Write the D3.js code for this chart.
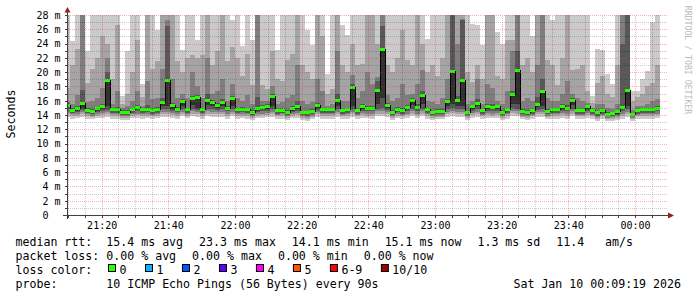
<!DOCTYPE html>
<html><head><meta charset="utf-8">
<script src="https://cdn.jsdelivr.net/npm/d3@7"></script>
<style>
body{margin:0;background:#fff;}
svg{display:block;}
text{font-family:"DejaVu Sans Mono",monospace;white-space:pre;}
</style>
</head><body>
<svg id="c" width="697" height="297"></svg>
<script>
// ---------- data ----------
const startTime = "2026-01-09T21:09:36";
const endTime   = "2026-01-10T00:09:36";
const firstStep = "2026-01-09T21:09:00";
const stepSeconds = 90;
const yMax = 28;

const median = [
15.40,14.70,14.89,15.68,14.70,14.47,14.89,15.26,18.81,14.75,
14.75,14.37,14.42,14.75,15.12,14.75,14.84,14.65,14.79,15.82,
18.81,15.40,14.84,15.96,14.75,16.38,16.47,14.75,16.01,15.82,
15.40,15.82,14.93,16.29,14.79,14.84,14.75,14.42,14.89,15.12,
15.21,16.61,14.61,14.70,14.42,14.89,15.26,14.37,14.33,14.56,
15.35,14.75,14.79,14.79,16.01,14.65,14.79,17.92,14.61,15.21,
14.93,14.98,17.50,23.24,15.40,14.42,14.84,14.61,15.12,16.10,
15.07,16.80,14.75,14.37,14.51,14.51,15.96,20.07,16.10,18.90,
14.37,15.17,15.63,14.65,15.21,15.07,15.17,14.42,14.75,16.89,
20.21,14.56,14.42,14.61,15.49,17.36,14.56,14.75,14.75,15.21,
14.93,16.05,14.61,14.65,15.21,14.65,14.33,14.61,14.09,14.19,
14.47,15.07,17.41,14.09,14.65,14.75,14.75,14.75,14.98];

const ping1 = [
13.7,13.5,13.6,13.7,13.5,13.4,13.6,13.6,13.7,13.5,
13.5,13.3,13.3,13.6,13.6,13.5,13.6,13.5,13.6,13.7,
13.7,13.6,13.5,13.8,13.6,13.8,13.7,13.5,13.8,13.7,
13.7,13.7,13.5,13.8,13.5,13.6,13.5,13.3,13.6,13.6,
13.7,13.7,13.4,13.5,13.3,13.6,13.6,13.3,13.2,13.4,
13.7,13.5,13.5,13.5,13.7,13.4,13.5,13.7,13.4,13.6,
13.6,13.5,13.8,13.8,13.7,13.3,13.6,13.5,13.6,13.8,
13.6,13.8,13.5,13.3,13.4,13.4,13.7,13.9,13.7,13.7,
13.3,13.6,13.7,13.4,13.6,13.6,13.6,13.3,13.5,13.9,
13.8,13.4,13.3,13.5,13.7,13.7,13.4,13.5,13.5,13.6,
13.5,13.8,13.4,13.4,13.6,13.5,13.2,13.5,13.1,13.2,
13.3,13.5,13.7,13.1,13.4,13.5,13.5,13.5,13.6];

const ping2 = [
14.1,13.9,13.9,14.1,13.8,13.7,13.9,14.0,14.1,13.9,
13.8,13.6,13.6,13.9,14.0,13.9,13.9,13.8,13.9,14.1,
14.1,14.0,13.9,14.1,13.9,14.2,14.1,13.9,14.2,14.1,
14.1,14.1,13.9,14.1,13.9,13.9,13.8,13.6,13.9,14.0,
14.0,14.1,13.8,13.8,13.6,13.9,14.0,13.6,13.5,13.7,
14.1,13.9,13.8,13.8,14.1,13.8,13.8,14.1,13.8,14.0,
13.9,13.9,14.2,14.2,14.1,13.6,13.9,13.8,14.0,14.2,
14.0,14.2,13.8,13.6,13.7,13.7,14.1,14.3,14.1,14.1,
13.6,14.0,14.1,13.8,14.0,13.9,14.0,13.6,13.8,14.3,
14.2,13.7,13.6,13.8,14.1,14.1,13.7,13.9,13.8,14.0,
13.9,14.2,13.8,13.8,14.0,13.8,13.5,13.8,13.4,13.5,
13.6,13.9,14.1,13.4,13.8,13.9,13.9,13.9,14.0];

const ping3 = [
14.4,14.1,14.2,14.4,14.1,13.9,14.2,14.3,14.4,14.1,
14.1,13.8,13.8,14.1,14.2,14.1,14.2,14.0,14.1,14.4,
14.4,14.3,14.2,14.4,14.1,14.5,14.4,14.1,14.5,14.4,
14.4,14.4,14.2,14.4,14.1,14.2,14.1,13.8,14.2,14.2,
14.3,14.4,14.0,14.1,13.8,14.2,14.3,13.8,13.7,13.9,
14.4,14.1,14.1,14.1,14.4,14.0,14.1,14.4,14.0,14.3,
14.2,14.2,14.5,14.6,14.4,13.8,14.2,14.0,14.2,14.5,
14.2,14.5,14.1,13.8,13.9,13.9,14.4,14.6,14.4,14.4,
13.8,14.3,14.4,14.0,14.3,14.2,14.3,13.8,14.1,14.6,
14.5,13.9,13.8,14.0,14.4,14.4,13.9,14.1,14.1,14.3,
14.2,14.5,14.0,14.0,14.3,14.0,13.7,14.0,13.6,13.7,
13.8,14.2,14.4,13.6,14.0,14.1,14.1,14.1,14.2];

const ping4 = [
14.8,14.3,14.4,14.7,14.3,14.1,14.4,14.6,14.7,14.3,
14.3,14.0,14.0,14.3,14.5,14.3,14.4,14.2,14.3,14.8,
14.8,14.6,14.4,14.8,14.3,14.9,14.7,14.3,14.9,14.8,
14.7,14.8,14.5,14.8,14.3,14.4,14.3,14.0,14.4,14.5,
14.6,14.8,14.2,14.3,14.0,14.4,14.6,14.0,13.9,14.1,
14.7,14.3,14.3,14.3,14.8,14.2,14.3,14.8,14.2,14.6,
14.5,14.5,14.9,15.0,14.7,14.0,14.4,14.2,14.5,14.9,
14.5,14.9,14.3,14.0,14.1,14.1,14.8,15.0,14.8,14.8,
14.0,14.6,14.8,14.2,14.6,14.5,14.6,14.0,14.3,15.0,
14.9,14.1,14.0,14.2,14.7,14.8,14.1,14.3,14.3,14.6,
14.5,14.9,14.2,14.2,14.6,14.2,13.9,14.2,13.8,13.9,
14.0,14.5,14.8,13.8,14.2,14.3,14.3,14.3,14.5];

const ping5 = [
15.1,14.5,14.6,15.0,14.5,14.3,14.6,14.9,15.2,14.5,
14.5,14.2,14.2,14.5,14.8,14.5,14.6,14.4,14.5,15.2,
15.3,14.9,14.6,15.3,14.5,15.4,15.0,14.5,15.4,15.2,
15.0,15.2,14.7,15.2,14.5,14.6,14.5,14.2,14.6,14.8,
14.9,15.2,14.4,14.5,14.2,14.6,14.9,14.2,14.1,14.3,
15.0,14.5,14.5,14.5,15.2,14.4,14.5,15.3,14.4,14.9,
14.7,14.7,15.5,16.4,15.0,14.2,14.6,14.4,14.8,15.4,
14.8,15.5,14.5,14.2,14.3,14.3,15.3,15.6,15.3,15.3,
14.2,14.9,15.2,14.4,14.9,14.8,14.9,14.2,14.5,15.6,
15.5,14.3,14.2,14.4,15.1,15.3,14.3,14.5,14.5,14.9,
14.7,15.4,14.4,14.4,14.9,14.4,14.1,14.4,13.9,14.0,
14.2,14.8,15.3,13.9,14.4,14.5,14.5,14.5,14.7];

const ping7 = [
15.7,15.0,15.2,17.5,15.0,14.8,15.1,15.6,20.0,15.0,
15.1,14.7,14.7,15.0,15.4,15.0,15.4,14.9,15.1,16.4,
26.5,15.7,15.1,16.2,15.0,16.7,16.8,15.0,17.0,16.1,
15.7,16.2,15.2,16.6,15.0,15.1,15.0,14.7,16.5,15.4,
15.5,17.0,14.9,14.9,14.7,15.2,16.0,14.6,14.6,14.8,
15.7,15.0,15.0,15.0,17.0,14.9,15.0,18.3,14.9,15.5,
15.3,15.3,18.8,26.4,15.7,14.7,15.1,15.0,15.4,16.4,
15.5,17.3,15.0,14.6,14.8,14.8,16.3,29.0,16.6,27.3,
14.6,15.4,16.3,14.9,15.6,15.5,15.4,14.7,15.0,17.4,
23.0,14.8,14.7,14.9,16.5,19.0,14.8,15.0,15.0,15.5,
15.4,16.4,14.9,14.9,15.4,14.8,14.6,14.8,14.4,14.4,
14.7,24.0,29.0,14.3,14.9,15.0,15.0,15.0,15.2];

const ping8 = [
16.0,15.6,16.8,29.0,15.8,15.9,16.4,17.8,22.0,15.6,
17.3,15.0,15.2,16.0,17.3,15.3,18.8,16.2,16.4,20.5,
27.3,19.0,16.4,17.0,16.4,20.0,18.0,16.4,22.0,17.0,
17.3,19.0,16.0,18.3,16.4,16.0,16.8,15.6,29.0,16.0,
15.9,18.0,15.6,15.8,16.4,16.8,21.0,16.0,15.6,15.8,
19.0,17.3,15.3,15.6,23.0,16.0,16.0,19.6,16.4,17.3,
20.0,18.3,19.3,29.0,16.8,16.0,16.4,18.3,16.8,17.0,
18.3,20.3,16.0,15.8,15.6,16.4,19.0,29.0,24.0,27.5,
15.6,16.0,19.0,15.6,18.3,17.8,16.0,15.5,17.3,23.0,
29.0,16.0,16.4,16.0,21.0,29.0,16.4,16.0,16.0,17.0,
18.8,17.0,16.4,16.0,15.7,15.0,15.6,15.6,15.0,14.8,
15.6,29.0,29.0,14.7,15.3,15.3,15.6,16.0,16.2];

const ping9 = [
17.8,21.0,23.2,29.0,18.5,20.5,22.0,25.0,24.0,19.0,
26.6,15.6,17.0,20.0,24.5,16.5,29.0,20.5,21.5,29.0,
28.0,29.0,21.5,20.0,22.0,22.4,22.0,22.4,29.0,21.0,
23.0,29.0,21.5,23.5,22.0,19.5,22.5,18.2,29.0,18.2,
17.7,23.0,19.0,18.7,21.7,22.6,29.0,21.0,20.0,19.0,
29.0,25.0,17.0,17.7,29.0,21.0,20.0,24.0,21.0,21.2,
29.0,29.0,24.0,29.0,21.0,20.0,22.0,25.9,21.7,21.0,
29.0,24.0,20.0,21.0,19.5,22.0,29.0,29.0,29.0,29.0,
20.0,18.6,21.0,19.0,29.0,29.0,19.4,19.0,24.5,24.5,
29.0,21.0,22.0,20.0,29.0,29.0,21.7,21.0,18.2,22.0,
29.0,20.3,20.5,21.0,17.3,15.7,18.5,19.5,17.0,16.5,
21.0,29.0,29.0,16.0,16.5,17.0,18.0,18.5,21.0];

const ping10 = [
29.0,24.4,29.0,29.0,22.9,29.0,29.0,28.0,29.0,29.0,
29.0,16.7,22.9,28.0,29.0,18.4,29.0,29.0,25.9,29.0,
29.0,29.0,28.2,23.1,29.0,29.0,24.5,29.0,29.0,29.0,
28.0,29.0,29.0,27.3,29.0,23.6,29.0,24.5,29.0,29.0,
29.0,29.0,23.1,29.0,29.0,29.0,29.0,29.0,25.9,23.8,
29.0,29.0,19.8,29.0,29.0,26.6,25.2,29.0,29.0,29.0,
29.0,29.0,29.0,29.0,29.0,29.0,29.0,29.0,29.0,29.0,
29.0,29.0,24.7,29.0,29.0,29.0,29.0,29.0,29.0,29.0,
29.0,26.8,26.6,23.8,29.0,29.0,25.6,24.0,29.0,29.0,
29.0,29.0,29.0,25.0,29.0,29.0,29.0,27.3,29.0,29.0,
29.0,29.0,29.0,29.0,29.0,16.6,23.3,23.1,19.8,18.4,
28.5,29.0,29.0,17.3,17.3,19.1,20.1,27.0,28.5];

const yLabelValues = [0,2,4,6,8,10,12,14,16,18,20,22,24,26,28];
const yUnit = "m";
const medianLabel = "median rtt:";
const medianStats = ["15.4 ms avg","23.3 ms max","14.1 ms min","15.1 ms now","1.3 ms sd","11.4   am/s"];
const lossLabel = "packet loss:";
const lossStats = ["0.00 % avg","0.00 % max","0.00 % min","0.00 % now"];
const colorLabel = "loss color:";
const lossNames  = ["0","1","2","3","4","5","6-9","10/10"];
const lossColors = ["#26ff00","#00b8ff","#0059ff","#5e00ff","#ff00ff","#ff5500","#ff0000","#a00000"];
const probeLabel = "probe:";
const probeText = "10 ICMP Echo Pings (56 Bytes) every 90s";
const stampText = "Sat Jan 10 00:09:19 2026";
const yTitle = "Seconds";
const watermark = "RRDTOOL / TOBI OETIKER";

// ---------- drawing ----------
const svg = d3.select("#c");
const X0 = 67, X1 = 667, YB = 215, YT = 15;
const x = d3.scaleTime().domain([new Date(startTime), new Date(endTime)]).range([X0, X1]);
const y = d3.scaleLinear().domain([0, yMax]).range([YB, YT]);
const t0 = new Date(firstStep).getTime();
const cols = median.map((m, i) => ({
  i, m,
  a: new Date(t0 + i * stepSeconds * 1000),
  b: new Date(t0 + (i + 1) * stepSeconds * 1000)
}));

svg.append("rect").attr("width", 697).attr("height", 297).attr("fill", "#fff");
svg.append("defs").append("clipPath").attr("id", "pc")
  .append("rect").attr("x", X0).attr("y", YT).attr("width", X1 - X0).attr("height", YB - YT);

const plot = svg.append("g").attr("clip-path", "url(#pc)");
const bands = [
  [ping1, ping10, "#cacaca"],
  [ping2, ping9, "#a4a4a4"],
  [ping3, ping8, "#7e7e7e"],
  [ping4, ping7, "#585858"],
  [ping5, median, "#323232"]
];
bands.forEach(([lo, hi, col]) => {
  plot.append("g").selectAll("rect").data(cols).join("rect")
    .attr("shape-rendering", "crispEdges")
    .attr("x", d => Math.round(x(d.a)))
    .attr("width", d => Math.round(x(d.b)) - Math.round(x(d.a)))
    .attr("y", d => y(hi[d.i]))
    .attr("height", d => Math.max(0, y(lo[d.i]) - y(hi[d.i])))
    .attr("fill", col);
});

// median step line
const pts = cols.map(d => [Math.round(x(d.a)), y(d.m)]);
pts.push([Math.round(x(cols[cols.length - 1].b)), y(cols[cols.length - 1].m)]);
plot.append("path")
  .attr("d", d3.line().curve(d3.curveStepAfter)(pts))
  .attr("fill", "none").attr("stroke", "#000").attr("stroke-width", 1)
  .attr("shape-rendering", "crispEdges");
// loss colored median (0 loss)
plot.append("g").selectAll("rect").data(cols).join("rect")
  .attr("shape-rendering", "crispEdges")
  .attr("x", d => Math.round(x(d.a)))
  .attr("width", d => Math.round(x(d.b)) - Math.round(x(d.a)))
  .attr("y", d => y(d.m) - 1.5)
  .attr("height", 3)
  .attr("fill", lossColors[0]);

// grid (dotted)
const grid = svg.append("g").attr("shape-rendering", "crispEdges");
const minorC = "rgba(0,0,0,0.2)", majorC = "rgba(235,50,50,0.38)";
const yMinor = d3.range(1, yMax + 1);
grid.selectAll("line").data(yMinor).join("line")
  .attr("x1", X0 + 1).attr("x2", X1 + 1)
  .attr("y1", d => Math.round(y(d)) + 0.5).attr("y2", d => Math.round(y(d)) + 0.5)
  .attr("stroke", d => d % 2 === 0 ? majorC : minorC)
  .attr("stroke-dasharray", "1,1");
const xMinor = x.ticks(d3.timeMinute.every(5));
const vgrid = svg.append("g").attr("shape-rendering", "crispEdges");
vgrid.selectAll("line").data(xMinor).join("line")
  .attr("x1", d => Math.round(x(d)) + 0.5).attr("x2", d => Math.round(x(d)) + 0.5)
  .attr("y1", YB).attr("y2", YT)
  .attr("stroke", d => d.getMinutes() % 20 === 0 ? majorC : minorC)
  .attr("stroke-dasharray", "1,1");

// axes
const axC = "#404040";
const ax = svg.append("g").attr("shape-rendering", "crispEdges");
ax.append("line").attr("x1", 63).attr("x2", 669).attr("y1", YB + 0.5).attr("y2", YB + 0.5).attr("stroke", axC);
ax.append("line").attr("x1", X0 + 0.5).attr("x2", X0 + 0.5).attr("y1", 219).attr("y2", 11).attr("stroke", axC);
const tyg = svg.append("g").attr("shape-rendering", "crispEdges");
tyg.selectAll("line").data(yMinor).join("line")
  .attr("x1", X0 - 2).attr("x2", X0)
  .attr("y1", d => Math.round(y(d)) + 0.5).attr("y2", d => Math.round(y(d)) + 0.5).attr("stroke", axC);
const txg = svg.append("g").attr("shape-rendering", "crispEdges");
txg.selectAll("line").data(xMinor).join("line")
  .attr("x1", d => Math.round(x(d)) + 0.5).attr("x2", d => Math.round(x(d)) + 0.5)
  .attr("y1", YB + 1).attr("y2", YB + 3).attr("stroke", axC);
svg.append("path").attr("d", "M64.5,12.5 L70.5,12.5 L67.5,7 Z").attr("fill", "#9b1c1c");
svg.append("path").attr("d", "M668,212.5 L668,218.5 L674,215.5 Z").attr("fill", "#9b1c1c");

// tick labels
const tl = svg.append("g").attr("font-size", "10px").attr("fill", "#000");
tl.selectAll("text.yl").data(yLabelValues).join("text").attr("class", "yl")
  .attr("x", 60.5).attr("y", d => y(d) + 3.8).attr("text-anchor", "end")
  .text(d => d === 0 ? "0\u00a0\u00a0" : d + " " + yUnit);
const fmt = d3.timeFormat("%H:%M");
tl.selectAll("text.xl").data(x.ticks(d3.timeMinute.every(20))).join("text").attr("class", "xl")
  .attr("x", d => x(d) + 0.5).attr("y", 228.5).attr("text-anchor", "middle")
  .text(d => fmt(d));

svg.append("text").attr("font-size", "11.6px")
  .attr("transform", "translate(14.5,114) rotate(-90)").attr("text-anchor", "middle").text(yTitle);
svg.append("text").attr("font-size", "8.2px").attr("fill", "#bbbbbb")
  .attr("transform", "translate(684.5,60) rotate(90)").attr("text-anchor", "middle").text(watermark);

// legend
const leg = svg.append("g").attr("font-size", "11.6px").attr("fill", "#000");
function flow(items, startX, by) {
  let xx = startX;
  items.forEach(t => {
    const el = leg.append("text").attr("x", xx).attr("y", by).text(t);
    xx += el.node().getComputedTextLength() + 16;
  });
}
const lb = [245.5, 259.5, 273.5, 287.5];
leg.append("text").attr("x", 15.5).attr("y", lb[0]).text(medianLabel);
flow(medianStats, 106.3, lb[0]);
leg.append("text").attr("x", 15.5).attr("y", lb[1]).text(lossLabel);
flow(lossStats, 106.3, lb[1]);
leg.append("text").attr("x", 15.5).attr("y", lb[2]).text(colorLabel);
let bx = 108;
lossNames.forEach((n, i) => {
  leg.append("rect").attr("x", bx + 0.5).attr("y", 264.5).attr("width", 7).attr("height", 7)
    .attr("fill", lossColors[i]).attr("stroke", "#000").attr("stroke-width", 1);
  const el = leg.append("text").attr("x", bx + 11.5).attr("y", lb[2]).text(n);
  bx += 12 + el.node().getComputedTextLength() + 18;
});
leg.append("text").attr("x", 15.5).attr("y", lb[3]).text(probeLabel);
leg.append("text").attr("x", 106.3).attr("y", lb[3]).text(probeText);
leg.append("text").attr("x", 681).attr("y", lb[3]).attr("text-anchor", "end").text(stampText);
</script>
</body></html>
